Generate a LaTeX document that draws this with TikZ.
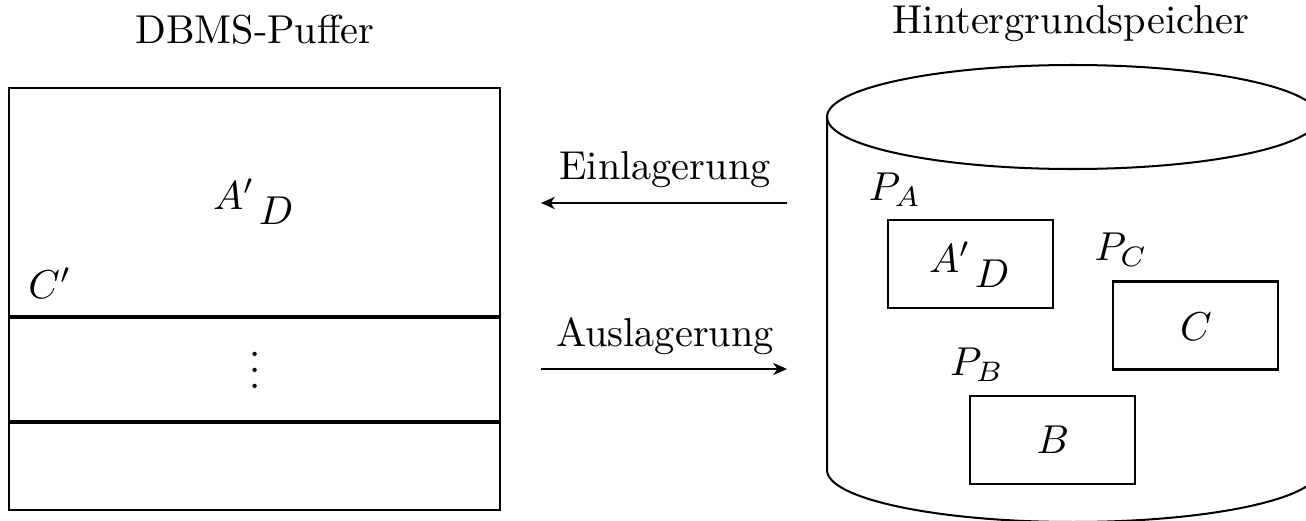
\documentclass[tikz,border=0pt]{standalone}
\usetikzlibrary{arrows.meta}
\begin{document}
\begin{tikzpicture}[x=0.248pt,y=-0.248pt,
  thin line/.style={line width=0.5pt},
  thick sep/.style={line width=1pt},
  pagebox/.style={draw,line width=0.5pt,inner sep=0pt,minimum width=165*0.248pt,minimum height=88*0.248pt},
  lbl/.style={inner sep=0pt},
  flow/.style={-{Stealth[length=3.4pt,width=3pt,inset=1pt]},line width=0.5pt}]
\useasboundingbox (0,0) rectangle (1306,520);
\clip (0,0) rectangle (1306,520);
% titles
\node[lbl] (t1) at (255,30) {DBMS-Puffer};
\node[lbl] (t2) at (1071,24) {Hintergrundspeicher};
% buffer
\node[draw,line width=0.5pt,inner sep=0pt,minimum width=491*0.248pt,minimum height=422*0.248pt] (buf) at (254.5,299) {};
\coordinate (s1l) at (9,317); \coordinate (s1r) at (500,317);
\coordinate (s2l) at (9,422); \coordinate (s2r) at (500,422);
\draw[thick sep] (s1l) -- (s1r);
\draw[thick sep] (s2l) -- (s2r);
\node[lbl] (ba) at (234,194) {$A'$};
\node[lbl] (bd) at (276,211) {$D$};
\node[lbl] (bc) at (50,283) {$C'$};
\node[lbl] (bv) at (255,358) {$\vdots$};
% arrows
\node[lbl] (ein) at (665,170) {Einlagerung};
\node[lbl] (aus) at (665,336) {Auslagerung};
\coordinate (e1) at (787,203); \coordinate (e2) at (541,203);
\coordinate (a1) at (541,369); \coordinate (a2) at (787,369);
\draw[flow] (e1) -- (e2);
\draw[flow] (a1) -- (a2);
% cylinder
\draw[thin line] (1073,117) ellipse [x radius=246, y radius=52];
\draw[thin line] (827,117) -- (827,470) arc[start angle=180,end angle=0,x radius=246,y radius=52] -- (1319,117);
% pages
\node[pagebox] (pa) at (970.5,264) {};
\node[pagebox] (pc) at (1195.5,325.5) {};
\node[pagebox] (pb) at (1052.5,440) {};
\node[lbl] (lpa) at (895,190) {$P_A$};
\node[lbl] (lpc) at (1121,250) {$P_C$};
\node[lbl] (lpb) at (977,365) {$P_B$};
\node[lbl] (pa1) at (950,257) {$A'$};
\node[lbl] (pa2) at (992,274) {$D$};
\node[lbl] (pc1) at (1196,327) {$C$};
\node[lbl] (pb1) at (1053,440) {$B$};
\end{tikzpicture}
\end{document}
